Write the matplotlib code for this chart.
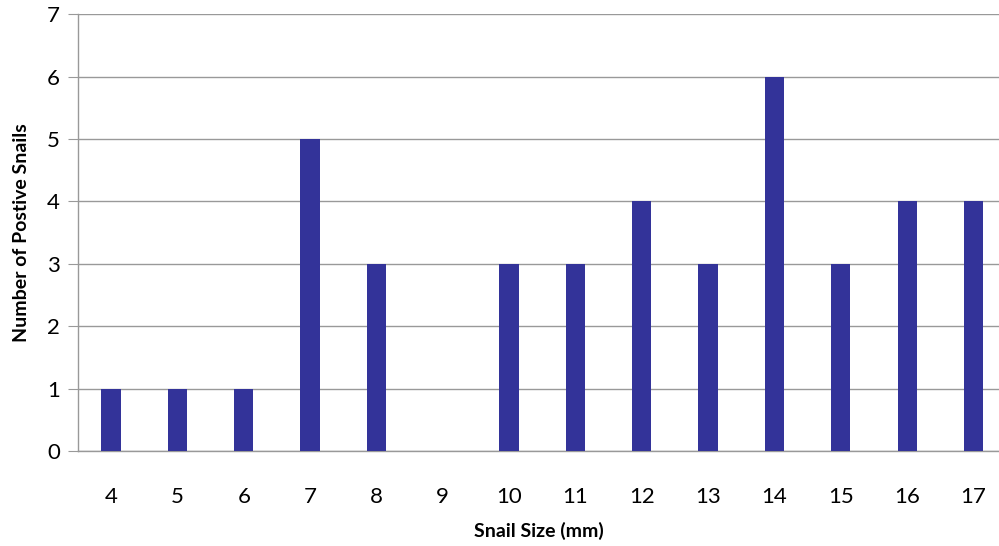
import matplotlib
matplotlib.use("Agg")
import matplotlib.pyplot as plt

sizes = ['4', '5', '6', '7', '8', '9', '10', '11', '12', '13', '14', '15', '16', '17']
counts = [1, 1, 1, 5, 3, 0, 3, 3, 4, 3, 6, 3, 4, 4]

plt.rcParams['font.family'] = ['Lato', 'DejaVu Sans']

fig = plt.figure(figsize=(9.99, 5.46), dpi=100)
ax = fig.add_axes([0.078, 0.174, 0.922, 0.8])

x = range(len(sizes))
ax.bar(x, counts, width=0.29, color='#333399', zorder=3)

ax.set_xlim(-0.5, 13.385)
ax.set_ylim(0, 7)
ax.set_yticks(range(8))
ax.set_xticks(list(x))
ax.set_xticklabels(sizes)
ax.grid(axis='y', color='#999999', linewidth=1, zorder=0)

for s in ['top', 'right']:
    ax.spines[s].set_visible(False)
for s in ['left', 'bottom']:
    ax.spines[s].set_color('#999999')
    ax.spines[s].set_linewidth(1)

ax.tick_params(axis='y', length=7, color='#999999', labelsize=16, pad=6)
ax.tick_params(axis='x', length=0, labelsize=16, pad=26)

ax.set_xlabel('Snail Size (mm)', fontsize=14, fontweight='bold', labelpad=11)
ax.set_ylabel('Number of Postive Snails', fontsize=14, fontweight='bold', labelpad=12)

fig.savefig('out.png', dpi=100)
